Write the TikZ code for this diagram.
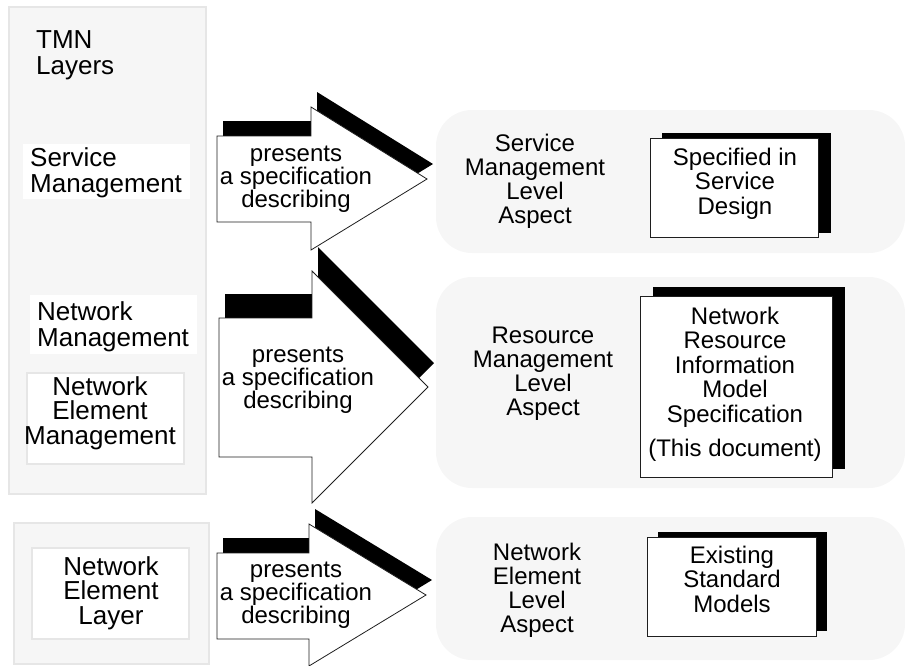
\documentclass[tikz,border=0pt]{standalone}
\usepackage{fontspec}
\setmainfont{Liberation Sans}
\definecolor{panelfill}{HTML}{F6F6F6}
\definecolor{panelline}{HTML}{E6E6E6}
\definecolor{edgeline}{HTML}{1E1E1E}
\newcommand\mlc[1]{\vtop{\lineskiplimit=-100pt\halign{\hfil##\hfil\cr#1\crcr}}}
\newcommand\mll[1]{\vtop{\lineskiplimit=-100pt\halign{##\hfil\cr#1\crcr}}}
\begin{document}
\begin{tikzpicture}[x=1pt,y=-1pt,
  lbl/.style={inner sep=0pt,anchor=base},
  lbll/.style={inner sep=0pt,anchor=base west},
  bigfont/.style={font=\fontsize{26}{26.5}\selectfont},
  nefont/.style={font=\fontsize{26}{24.5}\selectfont},
  txtfont/.style={font=\fontsize{24}{24}\selectfont},
  boxfont/.style={font=\fontsize{24}{24.5}\selectfont},
  arrfont/.style={font=\fontsize{24}{23}\selectfont},
  panelbox/.style={fill=panelfill,draw=panelline,line width=1.2pt},
  innerbox/.style={fill=white,draw=panelline,line width=1.2pt},
  roundpanel/.style={fill=panelfill,rounded corners=36pt},
  arrowbody/.style={fill=white,draw=edgeline,line width=0.8pt},
  shadowbox/.style={fill=black},
  specbox/.style={fill=white,draw=edgeline,line width=1pt}]
\useasboundingbox (0,0) rectangle (905,665);

% left panels
\path[panelbox] (9,7) rectangle (206,494);
\path[panelbox] (14,523) rectangle (209,664);
\fill[white] (23,144) rectangle (190,199);
\fill[white] (30,295) rectangle (197,354);
\path[innerbox] (27,373) rectangle (184,464);
\path[innerbox] (32,548) rectangle (189,639);

\node[lbll,bigfont] (tmn) at (36,48) {\mll{TMN\cr Layers}};
\node[lbll,bigfont] (sm) at (30,166) {\mll{Service\cr Management}};
\node[lbll,bigfont] (nm) at (37,320) {\mll{Network\cr Management}};
\node[lbl,nefont] (nem) at (100,395) {\mlc{Network\cr Element\cr Management}};
\node[lbl,nefont] (nel) at (111,575) {\mlc{Network\cr Element\cr Layer}};

% right panels
\path[roundpanel] (436,110) rectangle (905,253);
\path[roundpanel] (436,277) rectangle (905,488);
\path[roundpanel] (436,517) rectangle (905,660);

% arrows
\begin{scope}[shift={(6,-15)}]
  \fill (217,136) -- (311,136) -- (311,107) -- (427,179) -- (311,250) -- (311,222) -- (217,222) -- cycle;
\end{scope}
\path[arrowbody] (217,136) -- (311,136) -- (311,107) -- (427,179) -- (311,250) -- (311,222) -- (217,222) -- cycle;

\begin{scope}[shift={(6,-24)}]
  \fill (219,318) -- (312,318) -- (312,271) -- (428,387) -- (312,503) -- (312,457) -- (219,457) -- cycle;
\end{scope}
\path[arrowbody] (219,318) -- (312,318) -- (312,271) -- (428,387) -- (312,503) -- (312,457) -- (219,457) -- cycle;

\begin{scope}[shift={(6,-15)}]
  \fill (217,553) -- (309,553) -- (309,524) -- (426,595) -- (309,666) -- (309,639) -- (217,639) -- cycle;
\end{scope}
\path[arrowbody] (217,553) -- (309,553) -- (309,524) -- (426,595) -- (309,666) -- (309,639) -- (217,639) -- cycle;

\node[lbl,arrfont] (a1) at (296,161) {\mlc{presents\cr a specification\cr describing}};
\node[lbl,arrfont] (a2) at (298,362) {\mlc{presents\cr a specification\cr describing}};
\node[lbl,arrfont] (a3) at (296,577) {\mlc{presents\cr a specification\cr describing}};

% right labels
\node[lbl,txtfont] (r1) at (535,151) {\mlc{Service\cr Management\cr Level\cr Aspect}};
\node[lbl,txtfont] (r2) at (543,343) {\mlc{Resource\cr Management\cr Level\cr Aspect}};
\node[lbl,txtfont] (r3) at (537,560) {\mlc{Network\cr Element\cr Level\cr Aspect}};

% spec boxes
\path[shadowbox] (662,133) rectangle (831,233);
\path[specbox] (650,138) rectangle (818,237);
\path[shadowbox] (653,287) rectangle (845,469);
\path[specbox] (640,296) rectangle (832,477);
\path[shadowbox] (658,532) rectangle (827,631);
\path[specbox] (647,537) rectangle (816,636);

\node[lbl,boxfont] (b1) at (735,165) {\mlc{Specified in\cr Service\cr Design}};
\node[lbl,boxfont] (b2) at (735,324) {\mlc{Network\cr Resource\cr Information\cr Model\cr Specification\cr\noalign{\vskip 10pt}(This document)}};
\node[lbl,boxfont] (b3) at (732,563) {\mlc{Existing\cr Standard\cr Models}};
\end{tikzpicture}
\end{document}
